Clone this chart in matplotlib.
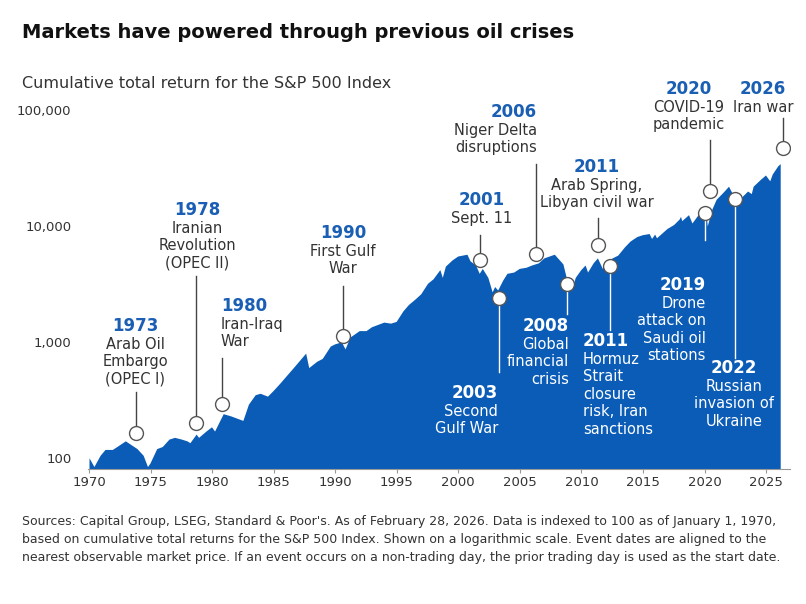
import matplotlib.pyplot as plt
import numpy as np

W, H = 806, 604
BLUE = '#0a5cb6'
YEARBLUE = '#1a5fb4'
TXT = '#333333'

# approximate S&P 500 cumulative total return, indexed to 100 in Jan 1970
series = [
    (1970.0, 100), (1970.4, 84), (1970.9, 105), (1971.3, 118), (1971.9, 118),
    (1972.5, 130), (1972.95, 140), (1973.5, 128), (1973.9, 120), (1974.4, 105),
    (1974.75, 84), (1974.95, 90), (1975.5, 120), (1975.95, 125), (1976.5, 145),
    (1976.95, 150), (1977.5, 145), (1977.95, 140), (1978.2, 135), (1978.7, 160),
    (1978.9, 150), (1979.5, 170), (1979.95, 185), (1980.2, 170), (1980.9, 240),
    (1981.5, 230), (1982.5, 210), (1982.95, 290), (1983.5, 350), (1983.9, 360),
    (1984.5, 340), (1984.95, 380), (1985.5, 440), (1985.95, 500), (1986.6, 600),
    (1987.6, 800), (1987.85, 600), (1988.5, 680), (1988.95, 720), (1989.6, 920),
    (1989.95, 960), (1990.5, 1000), (1990.8, 870), (1991.2, 1100), (1991.95, 1250),
    (1992.5, 1250), (1992.95, 1350), (1993.95, 1480), (1994.5, 1450), (1994.95, 1500),
    (1995.5, 1850), (1995.95, 2100), (1996.5, 2350), (1996.95, 2600), (1997.5, 3200),
    (1997.95, 3500), (1998.5, 4200), (1998.7, 3600), (1998.95, 4500), (1999.5, 5100),
    (1999.95, 5500), (2000.7, 5700), (2000.95, 5000), (2001.4, 4600), (2001.7, 3900),
    (2001.95, 4300), (2002.4, 3600), (2002.75, 2700), (2002.95, 3000), (2003.2, 2800),
    (2003.6, 3400), (2003.95, 3900), (2004.5, 4000), (2004.95, 4300), (2005.5, 4400),
    (2005.95, 4600), (2006.5, 4800), (2006.95, 5300), (2007.8, 5700), (2008.5, 4700),
    (2008.85, 3300), (2009.2, 2800), (2009.5, 3600), (2009.95, 4200), (2010.3, 4600),
    (2010.5, 4000), (2010.95, 4800), (2011.3, 5300), (2011.7, 4300), (2011.95, 4900),
    (2012.5, 5300), (2012.95, 5600), (2013.5, 6600), (2013.95, 7400), (2014.5, 8100),
    (2014.95, 8400), (2015.5, 8600), (2015.7, 7800), (2015.95, 8500), (2016.1, 7900),
    (2016.95, 9500), (2017.5, 10300), (2017.95, 11500), (2018.05, 12100), (2018.15, 11100),
    (2018.7, 12500), (2018.98, 10600), (2019.5, 12600), (2019.95, 14400), (2020.1, 14700),
    (2020.22, 10000), (2020.6, 14000), (2020.95, 17000), (2021.5, 19500), (2021.95, 22000),
    (2022.5, 17000), (2022.8, 16000), (2022.95, 17500), (2023.5, 20000), (2023.8, 19000),
    (2023.95, 22000), (2024.5, 25000), (2024.95, 27500), (2025.3, 24500), (2025.5, 28000),
    (2025.95, 33000), (2026.15, 34500),
]
x = np.array([s[0] for s in series])
y = np.array([s[1] for s in series])

# events: (marker year, marker value, line end pixel-y, year label, text, label px x, label px y (centre of year), ha, white)
events = [
    (1973.8, 164, 392, '1973', 'Arab Oil\nEmbargo\n(OPEC I)', 135, 326, 'center', False),
    (1978.7, 200, 276, '1978', 'Iranian\nRevolution\n(OPEC II)', 197, 210, 'center', False),
    (1980.8, 292, 358, '1980', 'Iran-Iraq\nWar', 221, 306, 'left', False),
    (1990.6, 1130, 286, '1990', 'First Gulf\nWar', 343, 233, 'center', False),
    (2001.8, 5100, 235, '2001', 'Sept. 11', 482, 200, 'center', False),
    (2003.3, 2400, 372, '2003', 'Second\nGulf War', 498, 393, 'right', True),
    (2006.3, 5700, 164, '2006', 'Niger Delta\ndisruptions', 537, 112, 'right', False),
    (2008.8, 3160, 314, '2008', 'Global\nfinancial\ncrisis', 569, 326, 'right', True),
    (2011.35, 6850, 218, '2011', 'Arab Spring,\nLibyan civil war', 597, 167, 'center', False),
    (2012.3, 4500, 330, '2011', 'Hormuz\nStrait\nclosure\nrisk, Iran\nsanctions', 583, 341, 'left', True),
    (2020.0, 12900, 240, '2019', 'Drone\nattack on\nSaudi oil\nstations', 706, 285, 'right', True),
    (2020.45, 20000, 140, '2020', 'COVID-19\npandemic', 689, 89, 'center', False),
    (2022.5, 17000, 358, '2022', 'Russian\ninvasion of\nUkraine', 734, 368, 'center', True),
    (2026.4, 47000, 118, '2026', 'Iran war', 763, 89, 'center', False),
]

YLO, YHI = 80, 100000
ax_top, ax_bot = 110, 469


def px_to_val(py):
    return 100 * 10 ** ((458 - py) / 116)


fig = plt.figure(figsize=(W / 100, H / 100), dpi=100)
ax = fig.add_axes([88 / W, 1 - ax_bot / H, (790 - 88) / W, (ax_bot - ax_top) / H])
ax.set_yscale('log')
ax.set_xlim(1970 - 1 / 12.31, 1970 + (790 - 89) / 12.31)
ax.set_ylim(YLO, YHI)
ax.fill_between(x, YLO, y, color=BLUE, lw=0)

ax.set_yticks([100, 1000, 10000, 100000])
ax.set_yticklabels(['100', '1,000', '10,000', '100,000'])
ax.yaxis.set_minor_locator(plt.NullLocator())
ax.set_xticks(range(1970, 2026, 5))
for s in ['top', 'right', 'left']:
    ax.spines[s].set_visible(False)
ax.spines['bottom'].set_color('#999999')
ax.tick_params(axis='y', length=0, labelsize=9.5, colors=TXT, pad=12)
ax.tick_params(axis='x', length=3, color='#999999', labelsize=9.5, labelcolor=TXT, pad=2)

for mx, mv, lend, yr, txt, lx, ly, ha, white in events:
    ax.plot([mx, mx], [mv, px_to_val(lend)], color='#444444' if not white else 'white', lw=1, zorder=3)
    ax.plot(mx, mv, 'o', ms=10, mfc='white', mec='#555555', mew=1, zorder=4)
    col = 'white' if white else TXT
    ycol = 'white' if white else YEARBLUE
    fig.text(lx / W, 1 - ly / H, yr, ha=ha, va='center', fontsize=12, fontweight='bold', color=ycol)
    fig.text(lx / W, 1 - (ly + 11) / H, txt, ha=ha, va='top', fontsize=10.5, color=col, linespacing=1.2)

fig.text(22 / W, 1 - 33 / H, 'Markets have powered through previous oil crises',
         fontsize=14, fontweight='bold', color='#111111', va='center')
fig.text(22 / W, 1 - 83 / H, 'Cumulative total return for the S&P 500 Index',
         fontsize=11.5, color=TXT, va='center')
fig.text(22 / W, 1 - 515 / H,
         "Sources: Capital Group, LSEG, Standard & Poor's. As of February 28, 2026. Data is indexed to 100 as of January 1, 1970,\n"
         "based on cumulative total returns for the S&P 500 Index. Shown on a logarithmic scale. Event dates are aligned to the\n"
         "nearest observable market price. If an event occurs on a non-trading day, the prior trading day is used as the start date.",
         fontsize=9, color=TXT, va='top', linespacing=1.5)

fig.savefig('out.png', dpi=100)
